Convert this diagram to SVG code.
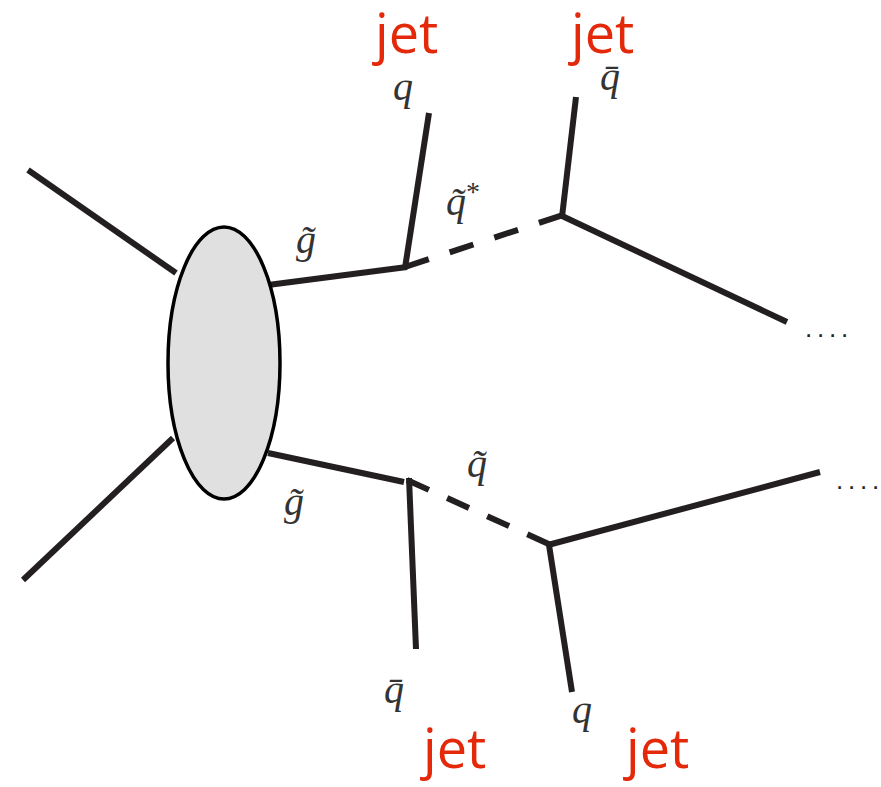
<svg xmlns="http://www.w3.org/2000/svg" width="881" height="787" viewBox="0 0 881 787">
<style>
.ln{stroke:#231f20;stroke-width:6;fill:none;stroke-linecap:butt}
.dash1{stroke-dasharray:25 22}
.dash2{stroke-dasharray:24 20}
.jet{font-family:"Open Sans","Liberation Sans",sans-serif;font-size:54px;fill:#e3290a;font-weight:500}
.m{font-family:"Liberation Serif","DejaVu Serif",serif;font-style:italic;font-size:40px;fill:#333}
.dots{font-family:"Liberation Sans",sans-serif;font-size:26px;fill:#231f20;letter-spacing:4.8px}
</style>
<rect width="881" height="787" fill="#fff"/>
<g id="connectors">
<line class="ln" x1="28" y1="170" x2="176" y2="273"/>
<line class="ln" x1="23" y1="580" x2="173" y2="438"/>
<line class="ln" x1="268" y1="285" x2="407" y2="267"/>
<line class="ln" x1="405" y1="268" x2="429" y2="113"/>
<line class="ln dash1" x1="405" y1="267" x2="563" y2="215"/>
<line class="ln" x1="562" y1="217" x2="576" y2="97"/>
<line class="ln" x1="560" y1="215" x2="787" y2="322"/>
<line class="ln" x1="268" y1="453" x2="404" y2="482"/>
<line class="ln" x1="409" y1="478" x2="416" y2="649"/>
<line class="ln dash2" x1="407" y1="480" x2="551" y2="545"/>
<line class="ln" x1="549" y1="545" x2="572" y2="692"/>
<line class="ln" x1="548" y1="545" x2="820" y2="472"/>
</g>
<g id="blob">
<ellipse cx="224" cy="363" rx="56" ry="136" fill="#e0e0e0" stroke="#000" stroke-width="3.5"/>
</g>
<g id="labels">
<text class="m" x="393" y="100">q</text>
<text class="m" x="600" y="90">q̄</text>
<text class="m" x="296" y="253">g̃</text>
<text class="m" x="446" y="215">q̃<tspan font-size="28" dy="-14" font-style="normal">*</tspan></text>
<text class="m" x="467" y="477">q̃</text>
<text class="m" x="284" y="515">g̃</text>
<text class="m" x="384" y="703">q̄</text>
<text class="m" x="572" y="723">q</text>
<text class="dots" x="805" y="337">....</text>
<text class="dots" x="836" y="489">....</text>
</g>
<g id="jets">
<text class="jet" x="375" y="53">jet</text>
<text class="jet" x="571" y="53">jet</text>
<text class="jet" x="423" y="768">jet</text>
<text class="jet" x="626" y="768">jet</text>
</g>
</svg>
